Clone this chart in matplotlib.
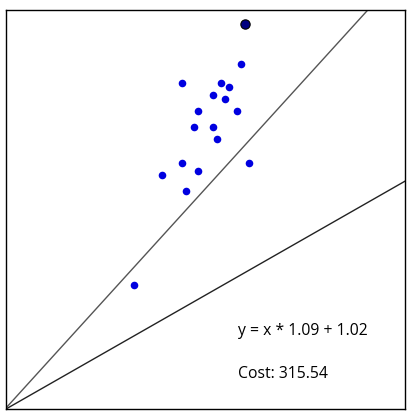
import numpy as np
import matplotlib
matplotlib.use("Agg")
import matplotlib.pyplot as plt

# scatter data (axes span 0..400 on both sides)
xs = [236, 176, 216, 224, 208, 220, 192, 232, 188, 208, 212, 176, 244, 192, 156, 180, 128]
ys = [346, 327, 327, 323, 315, 311, 299, 299, 283, 283, 271, 247, 247, 239, 235, 219, 124]

# highlighted point
hx = [240]
hy = [386]

# fitted line and starting line
fit_slope, fit_icpt = 1.10, 1.02
start_slope, start_icpt = 0.571, 0.0

label_fit = "y = x * 1.09 + 1.02"
label_cost = "Cost: 315.54"

fig = plt.figure(figsize=(4.10, 4.17), dpi=100)
ax = fig.add_axes([6 / 410, 8 / 417, 399 / 410, 399 / 417])
ax.set_xlim(0, 400)
ax.set_ylim(0, 400)
ax.set_xticks([])
ax.set_yticks([])
for s in ax.spines.values():
    s.set_linewidth(1.0)
    s.set_color("black")

lx = np.array([0, 400])
ax.plot(lx, fit_slope * lx + fit_icpt, color="#555555", lw=1.0)
ax.plot(lx, start_slope * lx + start_icpt, color="#222222", lw=1.0)

ax.scatter(xs, ys, s=30, color="#0000e0", zorder=3, linewidths=0)
ax.scatter(hx, hy, s=45, color="#000080", edgecolors="black", linewidths=0.8, zorder=4)

ax.text(233, 78, label_fit, fontsize=11.3, family="Open Sans", va="center", ha="left")
ax.text(233, 35, label_cost, fontsize=11.3, family="Open Sans", va="center", ha="left")

fig.savefig("out.png", dpi=100)
